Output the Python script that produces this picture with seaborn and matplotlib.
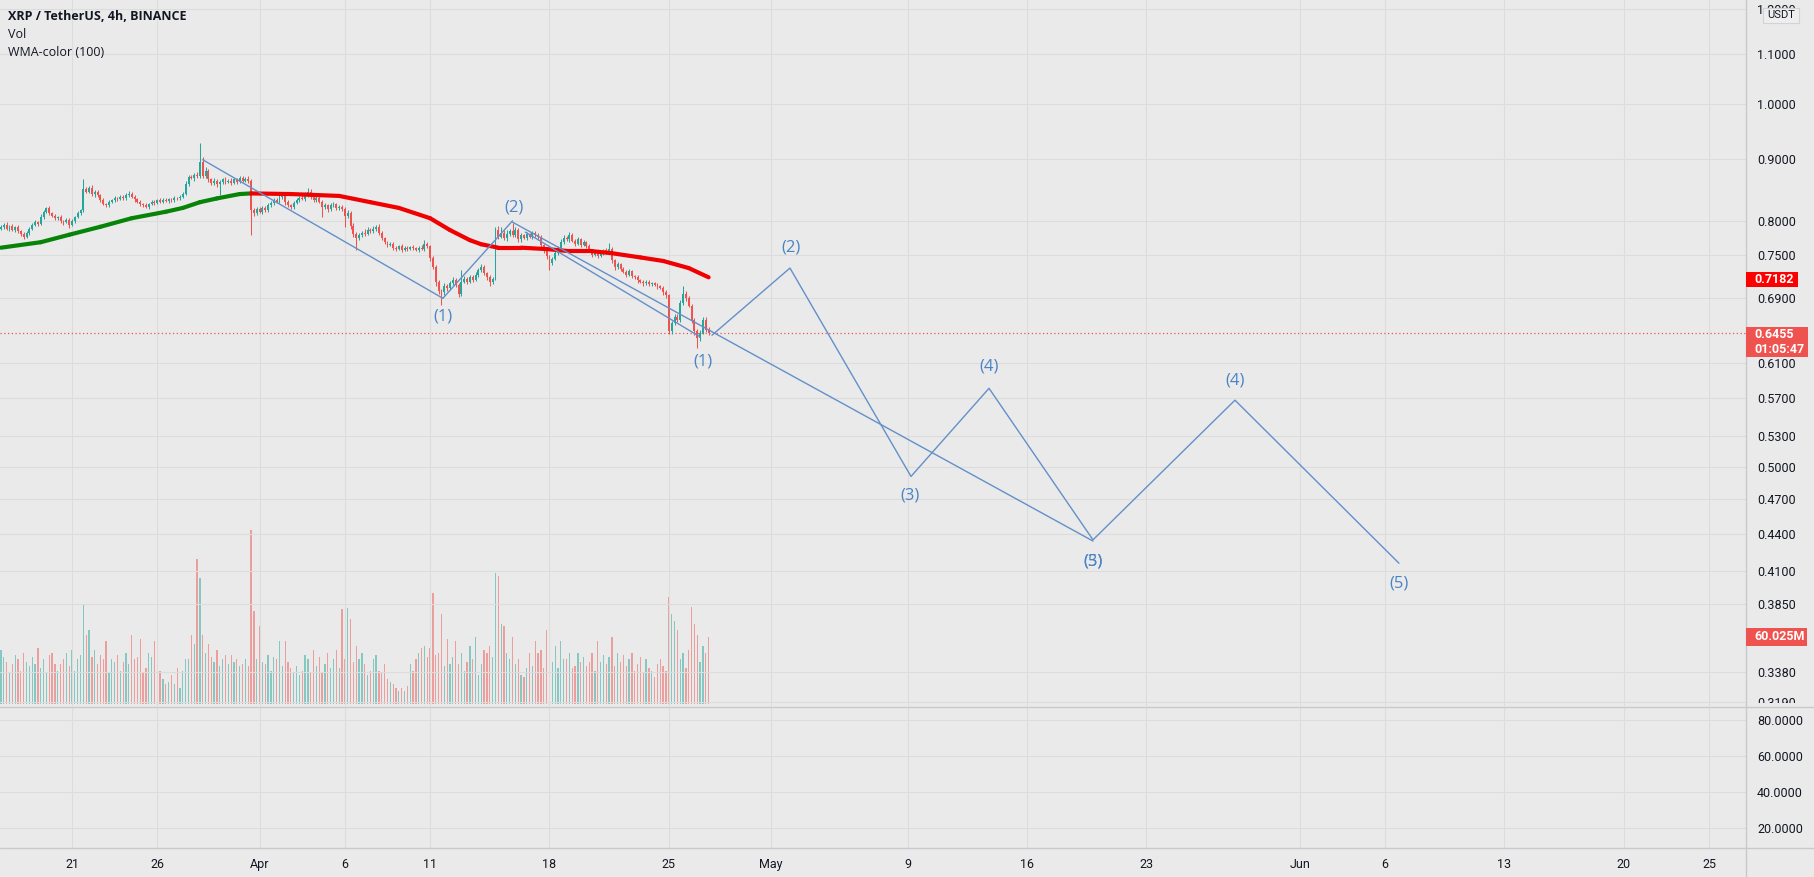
import numpy as np
import pandas as pd
import matplotlib
matplotlib.use("Agg")
import matplotlib.pyplot as plt
import matplotlib.dates as mdates
from matplotlib.ticker import NullLocator, NullFormatter, FixedLocator, FixedFormatter
from matplotlib.patches import Rectangle
from matplotlib.lines import Line2D
import seaborn as sns

# ---------------- data ----------------
first_candle = "2022-03-16 20:00"
first_open = 0.788
closes = [
    0.790,0.794,0.788,0.792,0.786,0.790,0.784,0.780,0.776,0.782,
    0.788,0.794,0.798,0.795,0.806,0.814,0.820,0.812,0.808,0.804,
    0.806,0.800,0.798,0.802,0.794,0.800,0.806,0.812,0.816,0.850,
    0.846,0.852,0.842,0.846,0.840,0.832,0.826,0.824,0.830,0.832,
    0.836,0.834,0.838,0.835,0.840,0.842,0.838,0.834,0.830,0.826,
    0.824,0.822,0.826,0.830,0.828,0.832,0.830,0.833,0.831,0.834,
    0.832,0.836,0.835,0.838,0.842,0.858,0.870,0.868,0.874,0.872,
    0.895,0.872,0.880,0.866,0.860,0.864,0.858,0.861,0.866,0.862,
    0.864,0.860,0.866,0.862,0.868,0.864,0.867,0.863,0.817,0.812,
    0.818,0.814,0.820,0.816,0.824,0.828,0.832,0.830,0.838,0.842,
    0.830,0.824,0.822,0.828,0.832,0.836,0.834,0.840,0.846,0.838,
    0.832,0.836,0.830,0.822,0.824,0.818,0.824,0.826,0.820,0.822,
    0.818,0.808,0.812,0.792,0.780,0.774,0.778,0.782,0.780,0.786,
    0.784,0.788,0.790,0.782,0.774,0.768,0.764,0.766,0.760,0.758,
    0.762,0.757,0.760,0.758,0.761,0.759,0.757,0.760,0.758,0.766,
    0.762,0.745,0.733,0.712,0.700,0.698,0.706,0.704,0.710,0.714,
    0.708,0.696,0.712,0.716,0.712,0.718,0.715,0.722,0.728,0.732,
    0.724,0.718,0.712,0.716,0.786,0.776,0.782,0.774,0.780,0.785,
    0.778,0.786,0.772,0.778,0.774,0.780,0.776,0.782,0.778,0.776,
    0.764,0.756,0.748,0.738,0.744,0.752,0.758,0.768,0.774,0.772,
    0.778,0.770,0.766,0.772,0.764,0.768,0.762,0.756,0.750,0.754,
    0.748,0.752,0.756,0.754,0.758,0.742,0.732,0.736,0.730,0.726,
    0.722,0.727,0.720,0.718,0.714,0.712,0.710,0.712,0.709,0.710,
    0.708,0.706,0.704,0.698,0.694,0.648,0.658,0.666,0.662,0.684,
    0.696,0.690,0.680,0.662,0.648,0.640,0.646,0.662,0.650,0.6455,
]
# upper / lower wick lengths in thousandths of USDT
wick_up = [
    3,2,4,2,3,2,3,2,3,2, 3,2,3,2,4,3,2,3,2,3, 2,3,2,3,2,3,2,3,2,16,
    4,3,5,2,3,2,3,2,3,2, 3,2,3,2,4,5,3,2,2,3, 2,3,2,3,2,2,3,2,3,2,
    2,3,2,3,4,5,3,4,3,4, 33,8,6,4,3,4,3,4,3,4, 3,4,3,3,4,3,3,4,4,3,
    3,4,3,3,4,3,4,3,4,3, 4,3,2,3,4,3,4,5,6,4, 3,4,3,2,3,2,4,3,2,3,
    3,3,4,3,4,3,4,3,5,4, 3,4,4,5,3,2,2,3,2,3, 2,3,2,3,2,3,2,3,4,5,
    3,2,3,2,3,2,4,3,3,4, 3,2,16,4,3,4,3,4,3,4, 3,2,3,2,4,6,8,4,6,3,
    12,4,3,3,2,3,2,3,2,3, 3,2,3,2,3,3,4,4,5,3, 5,3,2,3,2,3,2,3,2,3,
    2,3,2,4,9,3,2,3,2,3, 2,3,2,2,3,2,2,3,2,2, 2,3,2,2,3,2,3,4,3,4,
    10,4,3,3,2,3,3,4,4,3,
]
wick_dn = [
    2,3,2,3,2,3,2,3,3,2, 3,2,2,3,2,3,2,3,2,3, 2,3,4,2,5,2,3,2,3,2,
    3,2,3,4,2,3,2,3,2,3, 2,3,2,3,2,2,3,4,2,3, 3,2,3,2,3,2,2,3,2,3,
    3,2,3,2,3,2,3,2,4,3, 4,4,3,5,4,3,4,18,3,3, 2,3,2,3,2,3,2,3,38,4,
    3,2,3,2,3,2,3,2,3,4, 6,3,4,3,2,3,2,3,2,4, 3,2,3,16,3,4,3,2,3,4,
    3,18,3,4,4,17,3,2,3,2, 3,2,3,4,3,2,3,2,3,3, 2,3,2,3,2,3,2,3,2,3,
    3,4,3,5,4,17,3,4,3,2, 3,4,3,2,3,2,3,2,3,2, 3,4,6,3,2,3,2,3,4,3,
    3,2,4,3,2,3,2,3,2,3, 3,4,4,10,3,2,3,2,3,2, 3,2,3,2,3,2,3,2,3,2,
    3,2,2,3,2,4,3,2,3,2, 3,2,3,2,3,2,3,2,3,2, 2,3,2,3,3,4,3,2,3,3,
    3,3,2,4,5,12,4,2,3,2,
]
volume_m = [
    48,42,38,28,36,44,40,30,46,38, 34,42,36,50,32,40,28,44,46,36,
    30,36,40,46,34,48,30,40,44,90, 62,66,42,48,36,44,40,56,28,40,
    38,44,30,38,46,36,62,40,42,58, 28,32,46,42,56,28,30,22,18,20,
    26,18,32,14,30,40,40,62,54,130, 113,62,46,54,42,38,48,34,40,44,
    36,44,38,40,34,36,40,34,156,83, 40,70,38,36,44,30,42,40,56,34,
    56,38,32,28,34,26,30,44,40,28, 48,34,42,28,36,46,32,40,48,32,
    85,40,86,76,38,52,40,46,36,26, 30,40,44,30,28,36,22,20,18,14,
    12,14,12,16,36,30,40,46,50,52, 42,50,99,44,46,81,34,58,36,42,
    56,36,46,30,38,52,40,60,26,36, 48,46,52,42,117,115,72,70,46,40,
    60,36,40,26,24,32,46,34,56,46, 48,32,66,42,38,52,32,56,40,40,
    46,32,34,46,38,42,34,38,46,30, 56,38,44,36,42,60,34,46,38,44,
    34,40,46,30,36,42,28,40,32,30, 24,36,40,34,30,96,81,74,66,40,
    46,32,48,87,72,62,38,52,46,60.025,
]
# WMA(100) read at a set of candle positions
wma_idx = [0,14,24,35,46,58,64,70,76,84,88,102,119,130,140,151,158,165,169,175,
           183,192,200,208,215,225,233,242,249]
wma_val = [0.760,0.768,0.779,0.791,0.804,0.814,0.820,0.829,0.835,0.842,0.843,0.842,
           0.839,0.829,0.820,0.804,0.786,0.771,0.765,0.760,0.760,0.758,0.755,0.755,
           0.752,0.746,0.741,0.731,0.7182]

last_price = 0.6455
last_wma = 0.7182
last_volume = "60.025M"
countdown = "01:05:47"

price_ticks = [1.2, 1.1, 1.0, 0.9, 0.8, 0.75, 0.69, 0.61, 0.57, 0.53, 0.50,
               0.47, 0.44, 0.41, 0.385, 0.338, 0.319]
osc_ticks = [20, 40, 60, 80]
date_ticks = ["2022-03-21","2022-03-26","2022-04-01","2022-04-06","2022-04-11",
              "2022-04-18","2022-04-25","2022-05-01","2022-05-09","2022-05-16",
              "2022-05-23","2022-06-01","2022-06-06","2022-06-13","2022-06-20",
              "2022-06-25"]
date_labels = ["21","26","Apr","6","11","18","25","May","9","16","23","Jun",
               "6","13","20","25"]

# drawings
chan1_t = ["2022-03-28 16:00", "2022-04-11 18:00"]
chan1_p = [0.899, 0.690]
up1_t = ["2022-04-11 18:00", "2022-04-15 20:00"]
up1_p = [0.690, 0.800]
long_t = ["2022-04-15 20:00", "2022-05-19 21:00"]
long_p = [0.798, 0.434]
short_t = ["2022-04-16 14:00", "2022-04-26 20:00"]
short_p = [0.783, 0.641]
proj_t = ["2022-04-27 12:45","2022-05-02 02:30","2022-05-09 04:50","2022-05-13 18:40",
          "2022-05-19 21:00","2022-05-28 04:50","2022-06-06 19:40"]
proj_p = [0.643, 0.731, 0.491, 0.581, 0.435, 0.568, 0.416]
wave_labels = ["(1)","(2)","(1)","(2)","(3)","(4)","(5)","(3)","(4)","(5)"]
wave_t = ["2022-04-11 18:00","2022-04-15 22:00","2022-04-27 00:00","2022-05-02 04:00",
          "2022-05-09 03:30","2022-05-13 18:40","2022-05-19 21:00","2022-05-19 21:00",
          "2022-05-28 04:50","2022-06-06 19:40"]
wave_p = [0.666,0.820,0.611,0.760,0.473,0.606,0.417,0.417,0.590,0.400]

# ---------------- styling ----------------
BG = "#EAEAEB"
GRID = "#DCDCDD"
SEP = "#C9C9CB"
UP = "#26A69A"
DN = "#EF5350"
TXT = "#131722"
DRAW = "#6390C8"
LBL = "#4A84C4"

sns.set_theme(style="white")
plt.rcParams["font.family"] = ["Roboto", "DejaVu Sans"]

W, H = 1814, 877
fig = plt.figure(figsize=(W / 100, H / 100), dpi=100)
fig.patch.set_facecolor(BG)

def fx(px):
    return px / W

def fy(py):
    return 1 - py / H

MAIN_BOT = 706
LOW_TOP, LOW_BOT = 707, 848
AXR = 1746

ax = fig.add_axes([0, fy(MAIN_BOT), fx(AXR), MAIN_BOT / H])
axv = ax.twinx()
ax2 = fig.add_axes([0, fy(LOW_BOT), fx(AXR), (LOW_BOT - LOW_TOP) / H])

axv.set_zorder(0)
ax.set_zorder(1)
ax2.set_zorder(3)
ax.patch.set_visible(False)
axv.patch.set_facecolor(BG)
ax2.patch.set_facecolor(BG)

# time axis
t = pd.date_range(first_candle, periods=len(closes), freq="4h")
x = mdates.date2num(t)
ref = mdates.date2num(pd.Timestamp("2022-03-21"))
ppd = 17.052
xl = (ref - 72 / ppd, ref + (AXR - 72) / ppd)

closes_a = np.array(closes)
opens_a = np.concatenate([[first_open], closes_a[:-1]])
highs = np.maximum(opens_a, closes_a) + np.array(wick_up) / 1000
lows = np.minimum(opens_a, closes_a) - np.array(wick_dn) / 1000
is_up = closes_a >= opens_a
cols = np.where(is_up, UP, DN)

# price pane (log)
ax.set_yscale("log")
ax.set_xlim(*xl)
ax.set_ylim(np.exp((104 - MAIN_BOT) / 523.6), np.exp(104 / 523.6))
ax.yaxis.set_major_locator(FixedLocator(price_ticks))
ax.yaxis.set_major_formatter(FixedFormatter([f"{v:.4f}" for v in price_ticks]))
ax.yaxis.set_minor_locator(NullLocator())
ax.yaxis.set_minor_formatter(NullFormatter())
ax.yaxis.tick_right()
ax.tick_params(axis="y", length=0, pad=8, labelsize=9, labelcolor=TXT)
ax.xaxis.set_major_locator(FixedLocator(mdates.date2num(pd.to_datetime(date_ticks))))
ax.tick_params(axis="x", length=0, labelbottom=False)
ax.grid(True, color=GRID, lw=0.8, zorder=0)
for s in ax.spines.values():
    s.set_visible(False)

# volume overlay
vol_cols = [(0.149, 0.651, 0.604, 0.5) if u else (0.937, 0.325, 0.314, 0.5) for u in is_up]
axv.bar(x, volume_m, width=0.075, color=vol_cols, linewidth=0)
axv.set_ylim(-2 / 1.1162, 704 / 1.1162)
axv.set_xlim(*xl)
axv.axis("off")
axv.patch.set_visible(True)

# candles
ax.vlines(x, lows, highs, colors=cols, lw=0.75, zorder=3)
body_lo = np.minimum(opens_a, closes_a)
body_h = np.maximum(np.abs(closes_a - opens_a), 0.0012)
ax.bar(x, body_h, bottom=body_lo, width=0.11, color=cols, linewidth=0, zorder=3)

# WMA colored by direction
wx = x[wma_idx]
for k in range(len(wma_val) - 1):
    c = "#078407" if wma_val[k + 1] > wma_val[k] else "#F00000"
    ax.plot(wx[k:k + 2], wma_val[k:k + 2], color=c, lw=3.0,
            solid_capstyle="round", zorder=4)

# current price line
ax.axhline(last_price, color=DN, lw=0.9, ls=(0, (1, 2)), zorder=2)

# drawings
def tn(lst):
    return mdates.date2num(pd.to_datetime(lst))

for tt, pp in [(chan1_t, chan1_p), (up1_t, up1_p), (long_t, long_p), (short_t, short_p)]:
    ax.plot(tn(tt), pp, color=DRAW, lw=1.0, zorder=5)
sns.lineplot(x=tn(proj_t), y=proj_p, ax=ax, color=DRAW, lw=1.0, sort=False,
             estimator=None, zorder=5)
for lab, tt, pp in zip(wave_labels, tn(wave_t), wave_p):
    ax.text(tt, pp, lab, color=LBL, fontsize=12, ha="center", va="center",
            family=["Open Sans", "DejaVu Sans"], zorder=6)
ax.set_xlabel("")
ax.set_ylabel("")

# lower pane
ax2.set_xlim(*xl)
ax2.set_ylim(20 - 20 / 1.8, 80 + (720 - LOW_TOP) / 1.8)
ax2.yaxis.set_major_locator(FixedLocator(osc_ticks))
ax2.yaxis.set_major_formatter(FixedFormatter([f"{v:.4f}" for v in osc_ticks]))
ax2.yaxis.tick_right()
ax2.tick_params(axis="y", length=0, pad=8, labelsize=9, labelcolor=TXT)
ax2.xaxis.set_major_locator(FixedLocator(mdates.date2num(pd.to_datetime(date_ticks))))
ax2.xaxis.set_major_formatter(FixedFormatter(date_labels))
ax2.tick_params(axis="x", length=0, pad=7, labelsize=9, labelcolor=TXT)
ax2.grid(True, color=GRID, lw=0.8)
for s in ax2.spines.values():
    s.set_visible(False)

# cover strip so the lowest price label is cut by the pane border
fig.add_artist(Rectangle((fx(AXR + 1), fy(LOW_BOT)), fx(W - AXR), (LOW_BOT - 703) / H,
                         transform=fig.transFigure, facecolor=BG, edgecolor="none", zorder=2))

# separators
def hline(py, x0=0, x1=W):
    fig.add_artist(Line2D([fx(x0), fx(x1)], [fy(py), fy(py)], color=SEP, lw=1.0,
                          transform=fig.transFigure, zorder=5))

hline(MAIN_BOT + 0.5, 0, W)
hline(LOW_BOT, 0, W)
fig.add_artist(Line2D([fx(AXR), fx(AXR)], [0, 1], color=SEP, lw=1.0,
                      transform=fig.transFigure, zorder=5))

# price labels on the right
def tag(y0, y1, x1, color, lines, zo=6):
    fig.add_artist(Rectangle((fx(AXR), fy(y1)), fx(x1 - AXR), (y1 - y0) / H,
                             transform=fig.transFigure, facecolor=color,
                             edgecolor="none", zorder=zo))
    n = len(lines)
    for k, s in enumerate(lines):
        yc = y0 + (y1 - y0) * (k + 0.5) / n
        fig.text(fx(AXR + 8), fy(yc), s, color="white", fontsize=9, fontweight="bold",
                 ha="left", va="center", zorder=zo + 1)

tag(272, 287, 1798, "#FF0000", [f"{last_wma:.4f}"])
tag(327, 357, 1808, DN, [f"{last_price:.4f}", countdown])
tag(628, 646, 1807, DN, [last_volume])

# currency badge
fig.add_artist(Rectangle((fx(1763), fy(23)), fx(36), 15 / H, transform=fig.transFigure,
                         facecolor="#EEEEEF", edgecolor="#D3D3D5", lw=0.8, zorder=6))
fig.text(fx(1781), fy(15.5), "USDT", color=TXT, fontsize=8, ha="center", va="center", zorder=7)

# legend texts
fig.text(fx(8), fy(16), "XRP / TetherUS, 4h, BINANCE", color=TXT, fontsize=9,
         fontweight="bold", ha="left", va="center", family=["Open Sans", "DejaVu Sans"])
fig.text(fx(8), fy(34), "Vol", color=TXT, fontsize=9, ha="left", va="center",
         family=["Open Sans", "DejaVu Sans"])
fig.text(fx(8), fy(52), "WMA-color (100)", color=TXT, fontsize=9, ha="left", va="center",
         family=["Open Sans", "DejaVu Sans"])

fig.savefig("out.png", dpi=100, facecolor=BG)
